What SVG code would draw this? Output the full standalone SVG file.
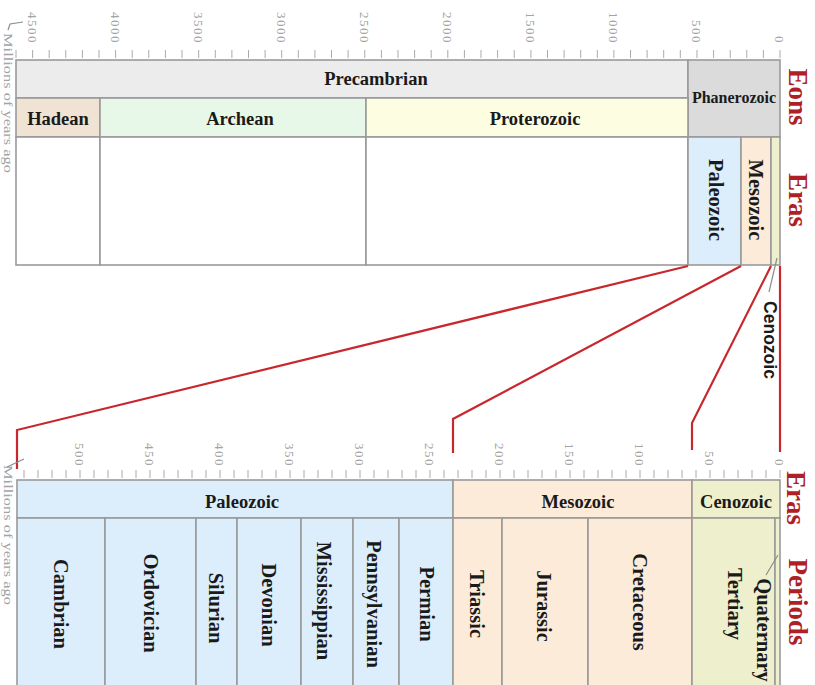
<svg xmlns="http://www.w3.org/2000/svg" width="815" height="685" viewBox="0 0 815 685">
<style>
.cell{stroke:#9a9a9a;stroke-width:1.6}
.lbl{font-family:"Liberation Serif",serif;font-weight:bold;fill:#1a1a1a;font-size:18.5px}
.rot{font-family:"Liberation Serif",serif;font-weight:bold;fill:#1a1a1a;font-size:20.5px;text-anchor:middle}
.ax{font-family:"Liberation Serif",serif;fill:#a3a3a3;font-size:13px;letter-spacing:1.5px;text-anchor:end}
.red{font-family:"Liberation Serif",serif;font-weight:bold;fill:#ae1f26;font-size:27px;text-anchor:middle}
.myr{font-family:"Liberation Serif",serif;fill:#a3a3a3;font-size:12px}
.tick{stroke:#aaaaaa;stroke-width:1;fill:none}
.lead{stroke:#8c8c8c;stroke-width:1.2;fill:none}
.conn{stroke:#c8282d;stroke-width:2.2;fill:none}
.blue{fill:#dcedfb}.peach{fill:#fcebd9}.olive{fill:#eeefcc}
</style>
<rect width="815" height="685" fill="#ffffff"/>

<!-- top axis -->
<g id="top-axis">
<path class="tick" d="M780 50V58M763.4 50V58M746.8 50V58M730.2 50V58M713.6 50V58M697 50V58M680.3 50V58M663.7 50V58M647.1 50V58M630.5 50V58M613.9 50V58M597.3 50V58M580.7 50V58M564.1 50V58M547.5 50V58M530.9 50V58M514.2 50V58M497.6 50V58M481 50V58M464.4 50V58M447.8 50V58M431.2 50V58M414.6 50V58M398 50V58M381.4 50V58M364.8 50V58M348.1 50V58M331.5 50V58M314.9 50V58M298.3 50V58M281.7 50V58M265.1 50V58M248.5 50V58M231.9 50V58M215.3 50V58M198.7 50V58M182 50V58M165.4 50V58M148.8 50V58M132.2 50V58M115.6 50V58M99 50V58M82.4 50V58M65.8 50V58M49.2 50V58M32.6 50V58M16 50V58"/>
<text class="ax" transform="translate(32.6,44) rotate(90)" dy="0.35em">4500</text>
<text class="ax" transform="translate(115.6,44) rotate(90)" dy="0.35em">4000</text>
<text class="ax" transform="translate(198.7,44) rotate(90)" dy="0.35em">3500</text>
<text class="ax" transform="translate(281.7,44) rotate(90)" dy="0.35em">3000</text>
<text class="ax" transform="translate(364.8,44) rotate(90)" dy="0.35em">2500</text>
<text class="ax" transform="translate(447.8,44) rotate(90)" dy="0.35em">2000</text>
<text class="ax" transform="translate(530.9,44) rotate(90)" dy="0.35em">1500</text>
<text class="ax" transform="translate(613.9,44) rotate(90)" dy="0.35em">1000</text>
<text class="ax" transform="translate(697,44) rotate(90)" dy="0.35em">500</text>
<text class="ax" transform="translate(780,44) rotate(90)" dy="0.35em">0</text>
<path class="lead" d="M8 30L10 24L23 22"/>
<text class="myr" transform="translate(4,33) rotate(90)" textLength="140" lengthAdjust="spacingAndGlyphs">Millions of years ago</text>
</g>

<!-- top chart -->
<g id="precambrian">
<rect class="cell" x="16" y="60" width="672" height="38" fill="#ececec"/>
<text class="lbl" x="376" y="85" text-anchor="middle">Precambrian</text>
</g>
<g id="phanerozoic">
<rect class="cell" x="688" y="60" width="92" height="77" fill="#dbdbdb"/>
<text class="lbl" x="734" y="103" text-anchor="middle" style="font-size:16px">Phanerozoic</text>
</g>
<g id="hadean">
<rect class="cell" x="16" y="98" width="84" height="39" fill="#f0e3d3"/>
<rect class="cell" x="16" y="137" width="84" height="128" fill="#ffffff"/>
<text class="lbl" x="58" y="125" text-anchor="middle">Hadean</text>
</g>
<g id="archean">
<rect class="cell" x="100" y="98" width="266" height="39" fill="#e8f8e8"/>
<rect class="cell" x="100" y="137" width="266" height="128" fill="#ffffff"/>
<text class="lbl" x="240" y="125" text-anchor="middle">Archean</text>
</g>
<g id="proterozoic">
<rect class="cell" x="366" y="98" width="322" height="39" fill="#fdfde1"/>
<rect class="cell" x="366" y="137" width="322" height="128" fill="#ffffff"/>
<text class="lbl" x="535" y="125" text-anchor="middle">Proterozoic</text>
</g>
<g id="paleozoic-top">
<rect class="cell blue" x="688" y="137" width="53" height="128"/>
<text class="rot" transform="translate(716,200) rotate(90)" dy="0.33em">Paleozoic</text>
</g>
<g id="mesozoic-top">
<rect class="cell peach" x="741" y="137" width="30" height="128"/>
<text class="rot" transform="translate(756,200) rotate(90)" dy="0.33em">Mesozoic</text>
</g>
<g id="cenozoic-top">
<rect class="cell olive" x="771" y="137" width="9" height="128"/>
<path class="lead" d="M777 258L769 292"/>
<text transform="translate(770,340) rotate(90)" dy="0.35em" text-anchor="middle" style="font-family:'Liberation Sans',sans-serif;font-weight:bold;font-size:17.5px;fill:#1a1a1a">Cenozoic</text>
</g>

<!-- row titles -->
<g id="row-titles">
<text class="red" transform="translate(798,97) rotate(90)" dy="0.33em">Eons</text>
<text class="red" transform="translate(798,200) rotate(90)" dy="0.33em">Eras</text>
<text class="red" transform="translate(796,498) rotate(90)" dy="0.33em">Eras</text>
<text class="red" transform="translate(798,602) rotate(90)" dy="0.33em">Periods</text>
</g>

<!-- connectors -->
<g id="connectors">
<path class="conn" d="M688 266L17 430V469"/>
<path class="conn" d="M741 266L453 419V453"/>
<path class="conn" d="M771 266L692 423V450"/>
<path class="conn" d="M780 266V452"/>
</g>

<!-- bottom axis -->
<g id="bottom-axis">
<path class="tick" d="M780 470V478M766 470V478M752 470V478M738 470V478M724 470V478M710 470V478M696 470V478M682 470V478M668 470V478M654 470V478M640 470V478M626 470V478M612 470V478M598 470V478M584 470V478M570 470V478M556 470V478M542 470V478M528 470V478M514 470V478M500 470V478M486 470V478M472 470V478M458 470V478M444 470V478M430 470V478M416 470V478M402 470V478M388 470V478M374 470V478M360 470V478M346 470V478M332 470V478M318 470V478M304 470V478M290 470V478M276 470V478M262 470V478M248 470V478M234 470V478M220 470V478M206 470V478M192 470V478M178 470V478M164 470V478M150 470V478M136 470V478M122 470V478M108 470V478M94 470V478M80 470V478M66 470V478M52 470V478M38 470V478M24 470V478"/>
<text class="ax" transform="translate(80,467) rotate(90)" dy="0.35em">500</text>
<text class="ax" transform="translate(150,467) rotate(90)" dy="0.35em">450</text>
<text class="ax" transform="translate(220,467) rotate(90)" dy="0.35em">400</text>
<text class="ax" transform="translate(290,467) rotate(90)" dy="0.35em">350</text>
<text class="ax" transform="translate(360,467) rotate(90)" dy="0.35em">300</text>
<text class="ax" transform="translate(430,467) rotate(90)" dy="0.35em">250</text>
<text class="ax" transform="translate(500,467) rotate(90)" dy="0.35em">200</text>
<text class="ax" transform="translate(570,467) rotate(90)" dy="0.35em">150</text>
<text class="ax" transform="translate(640,467) rotate(90)" dy="0.35em">100</text>
<text class="ax" transform="translate(710,467) rotate(90)" dy="0.35em">50</text>
<text class="ax" transform="translate(780,467) rotate(90)" dy="0.35em">0</text>
<path class="lead" d="M7 467L24 459"/>
<text class="myr" transform="translate(4,465) rotate(90)" textLength="140" lengthAdjust="spacingAndGlyphs">Millions of years ago</text>
</g>

<!-- bottom chart: eras -->
<g id="paleozoic">
<rect class="cell blue" x="17" y="480" width="436" height="38"/>
<text class="lbl" x="242" y="508" text-anchor="middle">Paleozoic</text>
</g>
<g id="mesozoic">
<rect class="cell peach" x="453" y="480" width="239" height="38"/>
<text class="lbl" x="578" y="508" text-anchor="middle">Mesozoic</text>
</g>
<g id="cenozoic">
<rect class="cell olive" x="692" y="480" width="88" height="38"/>
<text class="lbl" x="736" y="508" text-anchor="middle">Cenozoic</text>
</g>

<!-- bottom chart: periods -->
<g id="cambrian"><rect class="cell blue" x="17" y="518" width="88" height="172"/>
<text class="rot" transform="translate(61,604) rotate(90)" dy="0.33em">Cambrian</text></g>
<g id="ordovician"><rect class="cell blue" x="105" y="518" width="91" height="172"/>
<text class="rot" transform="translate(151,603) rotate(90)" dy="0.33em">Ordovician</text></g>
<g id="silurian"><rect class="cell blue" x="196" y="518" width="41" height="172"/>
<text class="rot" transform="translate(216,608) rotate(90)" dy="0.33em">Silurian</text></g>
<g id="devonian"><rect class="cell blue" x="237" y="518" width="64" height="172"/>
<text class="rot" transform="translate(269,605) rotate(90)" dy="0.33em">Devonian</text></g>
<g id="mississippian"><rect class="cell blue" x="301" y="518" width="52" height="172"/>
<text class="rot" transform="translate(324,601) rotate(90)" dy="0.33em">Mississippian</text></g>
<g id="pennsylvanian"><rect class="cell blue" x="353" y="518" width="46" height="172"/>
<text class="rot" transform="translate(374,604) rotate(90)" dy="0.33em">Pennsylvanian</text></g>
<g id="permian"><rect class="cell blue" x="399" y="518" width="54" height="172"/>
<text class="rot" transform="translate(427,604) rotate(90)" dy="0.33em">Permian</text></g>
<g id="triassic"><rect class="cell peach" x="453" y="518" width="49" height="172"/>
<text class="rot" transform="translate(477,604) rotate(90)" dy="0.33em">Triassic</text></g>
<g id="jurassic"><rect class="cell peach" x="502" y="518" width="86" height="172"/>
<text class="rot" transform="translate(544,606) rotate(90)" dy="0.33em">Jurassic</text></g>
<g id="cretaceous"><rect class="cell peach" x="588" y="518" width="104" height="172"/>
<text class="rot" transform="translate(640,602) rotate(90)" dy="0.33em">Cretaceous</text></g>
<g id="tertiary"><rect class="cell olive" x="692" y="518" width="83" height="172"/>
<text class="rot" transform="translate(735,604) rotate(90)" dy="0.33em">Tertiary</text></g>
<g id="quaternary"><rect class="cell olive" x="775" y="518" width="5" height="172"/>
<path class="lead" d="M778 555L766 575"/>
<text class="rot" transform="translate(764,630) rotate(90)" dy="0.33em">Quaternary</text></g>
</svg>
